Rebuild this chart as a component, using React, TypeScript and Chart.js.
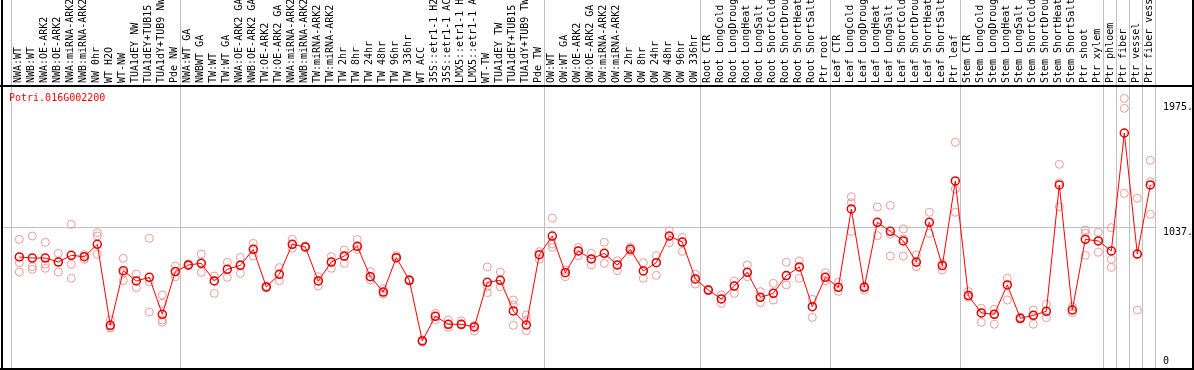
import React, { useEffect, useRef } from 'react';
import { Chart, registerables } from 'chart.js';

Chart.register(...registerables);

const geneId = 'Potri.016G002200';

const categories = [
  'NWA:WT', 'NWB:WT', 'NWA:OE-ARK2', 'NWB:OE-ARK2', 'NWA:miRNA-ARK2', 'NWB:miRNA-ARK2',
  'NW 0hr', 'WT H2O', 'WT-NW', 'TUA1dEY NW', 'TUA1dEY+TUB15 NW', 'TUA1dY+TUB9 NW', 'Pde NW',
  'NWA:WT GA', 'NWBWT GA', 'TW:WT', 'TW:WT GA', 'NWA:OE-ARK2 GA', 'NWB:OE-ARK2 GA',
  'TW:OE-ARK2', 'TW:OE-ARK2 GA', 'NWA:miRNA-ARK2 GA', 'NWB:miRNA-ARK2 GA', 'TW:miRNA-ARK2',
  'TW:miRNA-ARK2 GA', 'TW 2hr', 'TW 8hr', 'TW 24hr', 'TW 48hr', 'TW 96hr', 'TW 336hr',
  'WT ACC', '35S::etr1-1 H2O', '35S::etr1-1 ACC', 'LMX5::etr1-1 H2O', 'LMX5::etr1-1 ACC',
  'WT-TW', 'TUA1dEY TW', 'TUA1dEY+TUB15 TW', 'TUA1dY+TUB9 TW', 'Pde TW',
  'OW:WT', 'OW:WT GA', 'OW:OE-ARK2', 'OW:OE-ARK2 GA', 'OW:miRNA-ARK2', 'OW:miRNA-ARK2 GA',
  'OW 2hr', 'OW 8hr', 'OW 24hr', 'OW 48hr', 'OW 96hr', 'OW 336hr',
  'Root CTR', 'Root LongCold', 'Root LongDrought', 'Root LongHeat', 'Root LongSalt',
  'Root ShortCold', 'Root ShortDrought', 'Root ShortHeat', 'Root ShortSalt', 'Ptr root',
  'Leaf CTR', 'Leaf LongCold', 'Leaf LongDrought', 'Leaf LongHeat', 'Leaf LongSalt',
  'Leaf ShortCold', 'Leaf ShortDrought', 'Leaf ShortHeat', 'Leaf ShortSalt', 'Ptr leaf',
  'Stem CTR', 'Stem LongCold', 'Stem LongDrought', 'Stem LongHeat', 'Stem LongSalt',
  'Stem ShortCold', 'Stem ShortDrought', 'Stem ShortHeat', 'Stem ShortSalt', 'Ptr shoot',
  'Ptr xylem', 'Ptr phloem', 'Ptr fiber', 'Ptr vessel', 'Ptr fiber vessel',
];

const meanValues = [
  818, 810, 810, 780, 830, 820, 913, 305, 715, 638, 665, 388, 708,
  758, 770, 638, 725, 755, 875, 593, 688, 913, 893, 638, 780, 825, 898, 670, 555, 813, 643,
  188, 373, 313, 313, 293, 628, 643, 413, 308, 835,
  975, 700, 863, 803, 845, 758, 875, 713, 775, 975, 930, 653,
  570, 503, 600, 703, 515, 545, 678, 743, 445, 665,
  590, 1178, 590, 1078, 1010, 938, 780, 1078, 753, 1388,
  528, 398, 388, 608, 358, 380, 410, 1358, 420, 950, 938,
  863, 1748, 840, 1358,
];

const replicateValues = [
  [950, 775, 705], [975, 745, 725], [928, 765, 733], [845, 780, 705], [1063, 763, 658],
  [835, 800, 820], [1000, 975, 838], [345, 290, 285], [808, 698, 640], [690, 638, 588],
  [958, 630, 405], [533, 470, 345, 328], [750, 708, 670],
  [765, 758, 750], [840, 770, 703], [675, 640, 545], [778, 725, 665], [815, 755, 695],
  [920, 875, 825], [600, 593, 585], [738, 688, 640], [950, 913, 883], [900, 893, 890],
  [670, 638, 600], [820, 780, 733], [870, 825, 770], [948, 898, 875], [708, 670, 645],
  [580, 555, 538], [828, 813, 808], [650, 643, 638], [188, 180, 195], [395, 373, 345],
  [345, 313, 290], [338, 313, 308], [305, 293, 263], [743, 595, 550], [705, 643, 595],
  [495, 458, 305], [383, 345, 265], [858, 835, 800],
  [1110, 915, 890], [700, 670, 720], [890, 863, 828], [845, 803, 758], [928, 845, 770],
  [790, 758, 715], [890, 875, 860], [775, 713, 658], [828, 775, 680], [1013, 975, 925],
  [965, 930, 860], [688, 653, 615],
  [570, 575, 565], [533, 503, 470], [638, 600, 545], [758, 703, 670], [558, 515, 475],
  [620, 545, 495], [778, 678, 608], [788, 743, 658], [500, 445, 365], [700, 665, 640],
  [628, 590, 560], [1270, 1225, 1010], [600, 590, 570], [1193, 1078, 978], [1205, 990, 825],
  [1028, 953, 825], [833, 780, 745], [1153, 1078, 995], [770, 753, 720], [1678, 1328, 1153],
  [558, 528, 515], [433, 398, 328], [425, 388, 313], [658, 608, 495], [365, 358, 350],
  [420, 380, 313], [463, 410, 363], [1513, 1375, 1195], [445, 420, 400], [1020, 995, 830],
  [1003, 938, 853],
  [1038, 800, 740], [2008, 1933, 1295], [1258, 840, 420], [1543, 1383, 1138],
];

// first category index of each group (last entry = end)
const groupStarts = [0, 13, 41, 53, 63, 73, 84, 85, 86, 87, 88];
const yTickValues = [0, 1037, 1975];

const MONO = '"DejaVu Sans Mono", "Liberation Mono", monospace';

const decorPlugin = {
  id: 'decor',
  beforeDraw(chart: any) {
    const { ctx, width, height } = chart;
    ctx.save();
    ctx.fillStyle = '#ffffff';
    ctx.fillRect(0, 0, width, height);
    ctx.restore();
  },
  beforeDatasetsDraw(chart: any) {
    const { ctx, chartArea } = chart;
    const xs = chart.scales.x;
    ctx.save();
    ctx.strokeStyle = '#c0c0c0';
    ctx.lineWidth = 1;
    groupStarts.forEach((k) => {
      const px = Math.round(xs.getPixelForValue(k - 0.64)) + 0.5;
      ctx.beginPath();
      ctx.moveTo(px, 0);
      ctx.lineTo(px, chartArea.bottom);
      ctx.stroke();
    });
    ctx.restore();
  },
  afterDraw(chart: any) {
    const { ctx, width, height } = chart;
    ctx.save();
    ctx.strokeStyle = '#000000';
    ctx.lineWidth = 2;
    ctx.beginPath();
    ctx.moveTo(2, 0);
    ctx.lineTo(2, height);
    ctx.moveTo(width - 1, 0);
    ctx.lineTo(width - 1, height);
    ctx.moveTo(0, 86);
    ctx.lineTo(width, 86);
    ctx.moveTo(0, height - 1);
    ctx.lineTo(width, height - 1);
    ctx.stroke();
    ctx.fillStyle = '#ff0000';
    ctx.font = '10px ' + MONO;
    ctx.textBaseline = 'top';
    ctx.textAlign = 'left';
    ctx.fillText(geneId, 9, 93);
    ctx.restore();
  },
};

export default function App() {
  const canvasRef = useRef<HTMLCanvasElement | null>(null);

  useEffect(() => {
    const canvas = canvasRef.current;
    if (!canvas) return;

    const meanPoints = meanValues.map((v, i) => ({ x: i, y: v }));
    const repPoints: { x: number; y: number }[] = [];
    replicateValues.forEach((arr, i) => arr.forEach((v) => repPoints.push({ x: i, y: v })));

    const chart = new Chart(canvas, {
      type: 'line',
      data: {
        datasets: [
          {
            label: geneId,
            data: meanPoints,
            borderColor: '#ff0000',
            borderWidth: 1,
            pointRadius: 4,
            pointBorderWidth: 1.5,
            pointBorderColor: '#e00000',
            pointBackgroundColor: 'rgba(255,255,255,0)',
            tension: 0,
            order: 0,
          },
          {
            label: 'replicates',
            data: repPoints,
            showLine: false,
            pointRadius: 4,
            pointBorderWidth: 1,
            pointBorderColor: '#ee9a9a',
            pointBackgroundColor: 'rgba(255,255,255,0)',
            order: 1,
          },
        ],
      },
      options: {
        animation: false,
        responsive: false,
        devicePixelRatio: 1,
        layout: { autoPadding: false, padding: { left: 3, right: 0, top: 0, bottom: 2 } },
        plugins: {
          legend: { display: false },
          tooltip: { enabled: false },
          title: { display: false },
        },
        scales: {
          x: {
            type: 'linear',
            position: 'top',
            bounds: 'data',
            min: -1.254,
            max: 87.36,
            grid: { display: false, drawTicks: false },
            border: { display: false },
            afterBuildTicks: (s: any) => {
              s.ticks = categories.map((_, i) => ({ value: i }));
            },
            afterFit: (s: any) => {
              s.height = 87;
              s.paddingLeft = 0;
              s.paddingRight = 0;
            },
            ticks: {
              autoSkip: false,
              minRotation: 90,
              maxRotation: 90,
              padding: 4,
              labelOffset: 11.5,
              color: '#000000',
              font: { family: MONO, size: 10 },
              callback: (v: any) => categories[Math.round(Number(v))] ?? '',
            },
          },
          y: {
            type: 'linear',
            position: 'right',
            min: -15,
            max: 2093,
            bounds: 'data',
            border: { display: false },
            grid: {
              drawTicks: false,
              color: (c: any) => (c.tick && c.tick.value === 1037 ? '#c0c0c0' : 'rgba(0,0,0,0)'),
            },
            afterBuildTicks: (s: any) => {
              s.ticks = yTickValues.map((v) => ({ value: v }));
            },
            afterFit: (s: any) => {
              s.width = 39;
              s.paddingTop = 0;
              s.paddingBottom = 0;
            },
            ticks: {
              padding: 8,
              color: '#000000',
              font: { family: MONO, size: 10, lineHeight: 0.9 },
              callback: (v: any) => (Number(v) === 0 ? ['0', ''] : ['', `${v}.`]),
            },
          },
        },
      },
      plugins: [decorPlugin],
    });

    return () => chart.destroy();
  }, []);

  return (
    <div style={{ position: 'fixed', left: 0, top: 0, width: 1194, height: 370, background: '#fff' }}>
      <canvas ref={canvasRef} width={1194} height={370} style={{ display: 'block', width: 1194, height: 370 }} />
    </div>
  );
}
